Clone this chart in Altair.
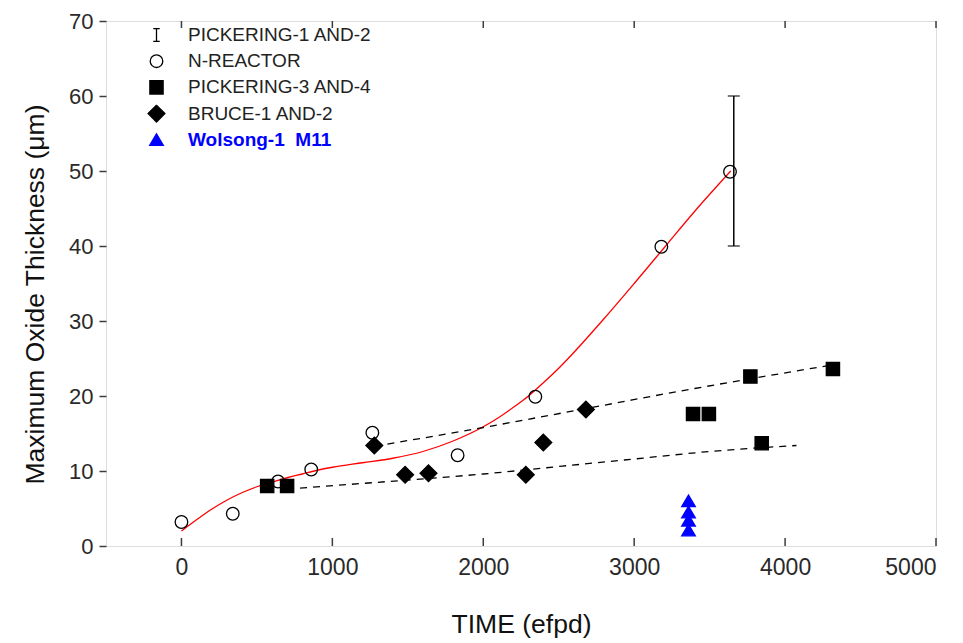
import altair as alt
import pandas as pd

# ---------------- data ----------------
SERIES = ["PICKERING-1 AND-2", "N-REACTOR", "PICKERING-3 AND-4", "BRUCE-1 AND-2", "Wolsong-1\u00a0\u00a0M11"]

nreactor_x = [0, 340, 640, 860, 1265, 1830, 2345, 3180, 3635]
nreactor_y = [3.2, 4.3, 8.6, 10.2, 15.1, 12.1, 19.9, 39.9, 49.9]

pick34_x = [568, 700, 3390, 3495, 3770, 3845, 4317]
pick34_y = [8.0, 8.0, 17.6, 17.6, 22.6, 13.7, 23.6]

bruce_x = [1278, 1482, 1637, 2282, 2398, 2680]
bruce_y = [13.4, 9.5, 9.7, 9.5, 13.8, 18.2]

wolsong_x = [3360, 3360, 3360, 3360]
wolsong_y = [2.1, 3.4, 4.5, 6.0]

pick12_x = [3660]
pick12_lo = [40]
pick12_hi = [60]

fit_x = [0, 100, 200, 300, 400, 500, 600, 700, 800, 900, 1000, 1200, 1400, 1600,
         1800, 2000, 2100, 2200, 2300, 2400, 2500, 2600, 2800, 3000, 3200, 3400, 3640]
fit_y = [2.0, 3.5, 4.9, 6.1, 7.1, 7.9, 8.5, 9.1, 9.6, 10.1, 10.5, 11.1, 11.7, 12.6,
         14.0, 15.9, 17.1, 18.5, 20.0, 21.8, 23.7, 25.8, 30.3, 35.0, 39.8, 44.6, 50.0]

upper_x = [1280, 2000, 2700, 3400, 3800, 4330]
upper_y = [13.3, 15.8, 18.4, 21.0, 22.4, 24.2]

lower_x = [700, 1500, 2000, 2500, 3000, 3500, 4075]
lower_y = [7.6, 8.8, 9.6, 10.6, 11.6, 12.6, 13.4]

x_ticks = [0, 1000, 2000, 3000, 4000, 5000]
y_ticks = [0, 10, 20, 30, 40, 50, 60, 70]

# ---------------- styling ----------------
FONT = "Liberation Sans"
TICKFONT = "Liberation Sans Narrow, Liberation Sans, Arial"
FRAME = "#3c3c3c"
W, H = 830, 525

SHAPES = [
    "M-0.38,-0.76H0.38M0,-0.76V0.76M-0.38,0.76H0.38",          # I bar
    "M0.74,0A0.74,0.74 0 1,1 -0.74,0A0.74,0.74 0 1,1 0.74,0Z",  # circle
    "M-0.78,-0.78H0.78V0.78H-0.78Z",                            # square
    "M0,-0.99L0.99,0L0,0.99L-0.99,0Z",                          # diamond
    "M0,-0.7L0.8,0.66L-0.8,0.66Z",                              # triangle
]
FILLS = ["transparent", "transparent", "black", "black", "#0000ff"]
STROKES = ["black", "black", "black", "black", "#0000ff"]

pts = pd.concat([
    pd.DataFrame({"x": nreactor_x, "y": nreactor_y, "s": SERIES[1]}),
    pd.DataFrame({"x": pick34_x, "y": pick34_y, "s": SERIES[2]}),
    pd.DataFrame({"x": bruce_x, "y": bruce_y, "s": SERIES[3]}),
    pd.DataFrame({"x": wolsong_x, "y": wolsong_y, "s": SERIES[4]}),
], ignore_index=True)

xscale = alt.Scale(domain=[-500, 5000], nice=False, zero=False)
yscale = alt.Scale(domain=[0, 70], nice=False)

xaxis = alt.Axis(values=x_ticks, format="d", ticks=False, domain=False, grid=False,
                 labelFont=TICKFONT, labelFontSize=23, labelColor="#2a2a2a", labelPadding=10,
                 title="TIME (efpd)", titleFont=FONT, titleFontSize=26.5, titleFontWeight="normal",
                 titleColor="#111111", titlePadding=32)
yaxis = alt.Axis(values=y_ticks, tickSize=7, tickColor=FRAME, tickWidth=1.5, domain=False, grid=False,
                 labelFont=TICKFONT, labelFontSize=22, labelColor="#2a2a2a", labelPadding=6,
                 title="Maximum Oxide Thickness (μm)", titleFont=FONT, titleFontSize=26.5,
                 titleFontWeight="normal", titleColor="#111111", titlePadding=19, titleY=273)

X = alt.X("x:Q", scale=xscale, axis=xaxis)
Y = alt.Y("y:Q", scale=yscale, axis=yaxis)

label_color = {"expr": "indexof(datum.label, 'Wolsong') === 0 ? '#0000ff' : '#222222'"}
label_weight = {"expr": "indexof(datum.label, 'Wolsong') === 0 ? 'bold' : 'normal'"}
legend = alt.Legend(title=None, orient="none", legendX=41, legendY=5, padding=0,
                    symbolSize=289, symbolStrokeWidth=1.3, clipHeight=18, rowPadding=7.2,
                    labelOffset=22, labelFont=FONT, labelFontSize=19, labelLimit=0,
                    labelColor=label_color, labelFontWeight=label_weight)

fit = alt.Chart(pd.DataFrame({"x": fit_x, "y": fit_y})).mark_line(
    color="#ff0000", strokeWidth=1.3, interpolate="monotone").encode(x=X, y=Y)
upper = alt.Chart(pd.DataFrame({"x": upper_x, "y": upper_y})).mark_line(
    color="black", strokeWidth=1.3, strokeDash=[7, 6], interpolate="monotone").encode(x=X, y=Y)
lower = alt.Chart(pd.DataFrame({"x": lower_x, "y": lower_y})).mark_line(
    color="black", strokeWidth=1.3, strokeDash=[7, 6], interpolate="monotone").encode(x=X, y=Y)

points = alt.Chart(pts).mark_point(size=289, strokeWidth=1.3, opacity=1, filled=False).encode(
    x=X, y=Y,
    shape=alt.Shape("s:N", scale=alt.Scale(domain=SERIES, range=SHAPES), legend=legend),
    fill=alt.Fill("s:N", scale=alt.Scale(domain=SERIES, range=FILLS), legend=legend),
    stroke=alt.Stroke("s:N", scale=alt.Scale(domain=SERIES, range=STROKES), legend=legend),
)

ebar = alt.Chart(pd.DataFrame({"x": pick12_x, "lo": pick12_lo, "hi": pick12_hi}))
erule = ebar.mark_rule(color="black", strokeWidth=1.5).encode(
    x=X, y=alt.Y("lo:Q", scale=yscale, axis=yaxis), y2="hi:Q")
ecap_lo = ebar.mark_tick(color="black", orient="horizontal", size=12, thickness=1.5).encode(
    x=X, y=alt.Y("lo:Q", scale=yscale, axis=yaxis))
ecap_hi = ebar.mark_tick(color="black", orient="horizontal", size=12, thickness=1.5).encode(
    x=X, y=alt.Y("hi:Q", scale=yscale, axis=yaxis))

tick_df = pd.DataFrame({"x": x_ticks})
bottom_ticks = alt.Chart(tick_df).mark_rule(color=FRAME, strokeWidth=1.5).encode(
    x=X, y=alt.value(H), y2=alt.value(H - 8))
top_ticks = alt.Chart(tick_df).mark_rule(color=FRAME, strokeWidth=1.5).encode(
    x=X, y=alt.value(0), y2=alt.value(7))

chart = alt.layer(fit, upper, lower, points, erule, ecap_lo, ecap_hi, bottom_ticks, top_ticks).properties(
    width=W, height=H,
    padding={"left": 98, "top": 13, "right": 15, "bottom": 92},
    autosize=alt.AutoSizeParams(type="none"),
).configure_view(stroke=FRAME, strokeWidth=2).configure(background="white")

chart.save("out.html", embed_options={"renderer": "svg", "actions": False})
